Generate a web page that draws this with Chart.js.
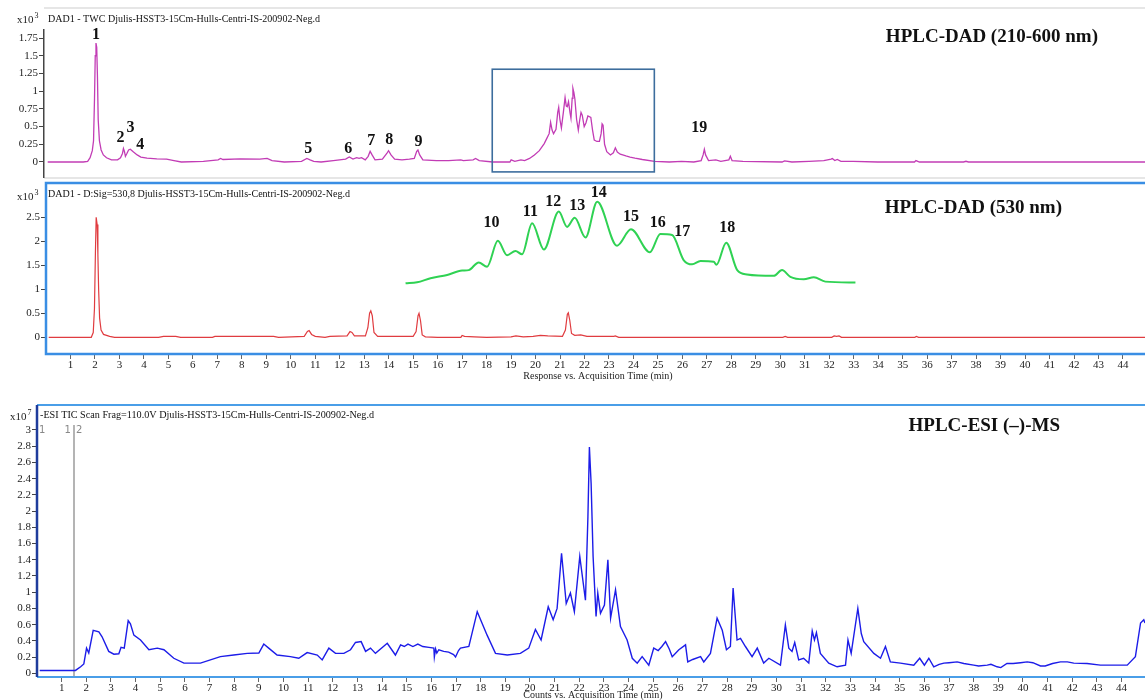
<!DOCTYPE html>
<html>
<head>
<meta charset="utf-8">
<script src="https://cdn.jsdelivr.net/npm/chart.js@4.4.1/dist/chart.umd.min.js"></script>
<style>
html, body { margin: 0; padding: 0; background: #fff; }
#wrap { position: relative; width: 1145px; height: 700px; overflow: hidden; background: #fff; }
#wrap canvas { position: absolute; left: 0; }
</style>
</head>
<body>
<div id="wrap">
  <canvas id="dadAll" width="1145" height="180" style="top:0px"></canvas>
  <canvas id="dad530" width="1145" height="205" style="top:180px"></canvas>
  <canvas id="ticMs" width="1145" height="315" style="top:385px"></canvas>
</div>
<script>
// ---- DAD 210-600 nm trace: [time (min), response x10^3]
const uvTrace = [[0.15,0],[1.6,0],[1.78,0.01],[1.88,0.06],[1.97,0.16],[2.02,0.3],[2.06,0.9],[2.09,1.5],[2.12,1.68],[2.15,1.62],[2.18,1.2],[2.21,0.6],[2.26,0.3],[2.33,0.17],[2.42,0.1],[2.55,0.06],[2.75,0.03],[3.0,0.03],[3.12,0.06],[3.2,0.12],[3.24,0.19],[3.28,0.15],[3.32,0.08],[3.38,0.12],[3.45,0.17],[3.52,0.18],[3.65,0.14],[3.8,0.1],[3.95,0.07],[4.2,0.055],[4.6,0.045],[5.0,0.04],[5.3,0.02],[5.6,0],[6.5,0.01],[7.1,0.03],[7.2,0.05],[7.3,0.035],[8.0,0.045],[8.8,0.04],[9.1,0.05],[9.3,0.02],[9.8,0],[10.5,0.01],[10.72,0.05],[10.85,0.03],[11.0,0.01],[11.3,0],[11.8,0.02],[12.3,0.04],[12.45,0.07],[12.6,0.04],[12.75,0.06],[12.85,0.05],[12.95,0.06],[13.1,0.03],[13.22,0.08],[13.3,0.15],[13.38,0.1],[13.5,0.03],[13.8,0.04],[13.98,0.12],[14.05,0.16],[14.15,0.1],[14.3,0.04],[14.6,0.03],[14.9,0.04],[15.1,0.05],[15.2,0.15],[15.25,0.17],[15.32,0.1],[15.45,0.03],[16.0,0.02],[16.5,0.02],[17.0,0.03],[17.1,0.02],[17.5,0.03],[17.6,0.05],[17.75,0.02],[18.3,0],[19.0,0],[19.05,0.03],[19.2,0.01],[19.45,0.03],[19.6,0.02],[19.8,0.05],[20.0,0.1],[20.2,0.16],[20.4,0.26],[20.5,0.33],[20.6,0.4],[20.66,0.56],[20.72,0.45],[20.78,0.4],[20.88,0.46],[20.95,0.7],[20.99,0.77],[21.04,0.6],[21.1,0.48],[21.18,0.7],[21.25,0.91],[21.3,0.79],[21.34,0.78],[21.39,0.85],[21.45,0.7],[21.49,0.62],[21.54,0.9],[21.57,1.04],[21.61,0.98],[21.65,0.89],[21.72,0.6],[21.79,0.45],[21.85,0.6],[21.9,0.7],[21.95,0.66],[22.03,0.5],[22.1,0.55],[22.18,0.65],[22.3,0.63],[22.37,0.45],[22.44,0.31],[22.55,0.29],[22.65,0.29],[22.72,0.4],[22.76,0.54],[22.8,0.52],[22.86,0.25],[22.95,0.145],[23.1,0.1],[23.22,0.13],[23.3,0.2],[23.38,0.14],[23.5,0.11],[23.6,0.1],[23.73,0.085],[23.9,0.07],[24.1,0.055],[24.4,0.035],[24.9,0.01],[25.5,0],[26.0,0.01],[26.5,0],[26.8,0.02],[26.88,0.1],[26.93,0.18],[26.98,0.1],[27.1,0.02],[27.4,0.03],[27.6,0.01],[27.93,0.03],[27.99,0.08],[28.06,0.02],[28.5,0.01],[30.1,0],[30.2,0.015],[30.5,0],[31.2,0.01],[31.8,0.02],[32.1,0.04],[32.15,0.05],[32.25,0.02],[32.35,0.035],[32.5,0.01],[33.0,0.01],[34.0,0],[35.5,0],[35.56,0.02],[35.7,0],[37.5,0],[37.6,0.01],[37.7,0],[44.9,0]];

// ---- DAD 530 nm trace
const visTrace = [[0.11,0],[1.85,0],[1.93,0.1],[1.98,0.6],[2.02,1.8],[2.05,2.5],[2.09,2.35],[2.12,1.72],[2.15,1.0],[2.19,0.4],[2.25,0.15],[2.35,0.06],[2.6,0.02],[2.8,0],[4.6,0],[4.8,0.02],[5.3,0.02],[5.5,0],[6.8,0],[6.9,0.02],[9.3,0.02],[9.5,0],[10.55,0.02],[10.68,0.12],[10.75,0.14],[10.85,0.06],[11.0,0.02],[11.4,0],[11.6,0.02],[12.3,0.03],[12.42,0.12],[12.5,0.1],[12.6,0.03],[13.05,0.03],[13.15,0.2],[13.22,0.5],[13.27,0.55],[13.33,0.45],[13.4,0.1],[13.55,0.02],[14.0,0.02],[15.0,0.02],[15.12,0.12],[15.2,0.45],[15.24,0.5],[15.3,0.35],[15.37,0.05],[15.5,0.01],[16.0,0],[16.95,0],[17.0,0.04],[17.1,0.02],[17.5,0.01],[18.0,0],[19.0,0.01],[19.2,0.03],[19.5,0.01],[19.9,0.02],[20.2,0.04],[20.5,0.03],[21.1,0.02],[21.22,0.15],[21.3,0.48],[21.34,0.51],[21.4,0.35],[21.47,0.08],[21.6,0.04],[21.85,0.05],[22.1,0.02],[23.2,0.02],[23.26,0.03],[23.4,0],[24.0,0],[30.1,0],[30.2,0.02],[30.3,0],[32.1,0],[32.2,0.03],[32.3,0.02],[32.4,0.03],[32.5,0],[35.5,0],[35.56,0.02],[35.65,0],[44.9,0]];

// ---- expanded 530 nm window (drawn over the 530 nm panel)
const insetTrace = [[14.69,1.125],[15.16,1.146],[15.71,1.23],[16.39,1.30],[17.0,1.39],[17.27,1.40],[17.68,1.56],[18.02,1.47],[18.46,2.01],[18.84,1.71],[19.18,1.80],[19.45,1.73],[19.86,2.375],[20.34,1.83],[20.95,2.62],[21.29,2.30],[21.6,2.49],[22.04,2.08],[22.52,2.825],[23.33,1.91],[23.9,2.25],[24.67,1.77],[25.1,2.15],[25.58,2.13],[26.05,1.61],[26.4,1.52],[26.74,1.59],[27.28,1.575],[27.39,1.51],[27.79,1.97],[28.24,1.40],[28.64,1.31],[29.73,1.28],[30.07,1.40],[30.41,1.26],[30.96,1.21],[31.37,1.25],[31.84,1.16],[33.07,1.14]];

// ---- ESI(-) TIC trace: [time (min), counts x10^7]
const ticTrace = [[0.11,0.035],[1.56,0.035],[1.77,0.08],[1.9,0.115],[2.01,0.31],[2.1,0.25],[2.28,0.53],[2.51,0.51],[2.64,0.45],[2.91,0.27],[3.12,0.235],[3.32,0.24],[3.41,0.32],[3.54,0.31],[3.7,0.65],[3.79,0.61],[3.93,0.47],[4.2,0.41],[4.54,0.29],[4.88,0.31],[5.15,0.29],[5.55,0.185],[5.96,0.125],[6.63,0.125],[7.44,0.205],[7.98,0.225],[8.53,0.245],[9.0,0.25],[9.2,0.36],[9.4,0.31],[9.74,0.225],[10.28,0.205],[10.62,0.185],[10.96,0.255],[11.37,0.225],[11.57,0.165],[11.84,0.31],[12.11,0.245],[12.45,0.245],[12.72,0.29],[12.92,0.38],[13.15,0.39],[13.33,0.27],[13.53,0.31],[13.73,0.245],[14.21,0.37],[14.54,0.225],[14.75,0.35],[14.9,0.33],[15.05,0.36],[15.25,0.33],[15.45,0.36],[15.65,0.33],[15.9,0.32],[16.1,0.31],[16.12,0.2],[16.17,0.3],[16.22,0.25],[16.3,0.29],[16.5,0.27],[16.7,0.26],[16.9,0.23],[16.98,0.2],[17.1,0.28],[17.18,0.31],[17.52,0.33],[17.86,0.76],[18.26,0.47],[18.6,0.245],[19.08,0.225],[19.61,0.245],[19.95,0.31],[20.22,0.54],[20.45,0.41],[20.74,0.82],[20.94,0.66],[21.1,0.80],[21.28,1.48],[21.47,0.86],[21.64,0.99],[21.8,0.76],[22.02,1.44],[22.25,0.90],[22.35,1.93],[22.41,2.79],[22.48,2.34],[22.56,1.44],[22.68,0.70],[22.75,0.99],[22.86,0.74],[23.02,0.84],[23.16,1.40],[23.27,0.68],[23.47,1.03],[23.67,0.575],[23.94,0.41],[24.15,0.185],[24.35,0.125],[24.55,0.205],[24.82,0.10],[25.02,0.31],[25.2,0.28],[25.35,0.33],[25.5,0.39],[25.65,0.3],[25.77,0.205],[26.04,0.29],[26.31,0.35],[26.4,0.14],[26.6,0.17],[26.92,0.205],[27.05,0.14],[27.32,0.245],[27.59,0.68],[27.8,0.53],[27.97,0.29],[28.13,0.33],[28.24,1.05],[28.4,0.41],[28.54,0.43],[28.74,0.33],[29.01,0.205],[29.22,0.31],[29.48,0.125],[29.69,0.185],[30.16,0.10],[30.36,0.595],[30.5,0.31],[30.63,0.27],[30.74,0.38],[30.9,0.165],[31.1,0.185],[31.31,0.125],[31.45,0.52],[31.54,0.41],[31.62,0.50],[31.78,0.245],[32.12,0.125],[32.46,0.08],[32.8,0.10],[32.9,0.41],[33.03,0.245],[33.3,0.80],[33.44,0.49],[33.54,0.39],[33.95,0.245],[34.22,0.185],[34.42,0.33],[34.62,0.14],[35.03,0.125],[35.57,0.10],[35.81,0.185],[36.0,0.10],[36.18,0.185],[36.38,0.08],[36.6,0.11],[36.79,0.125],[37.0,0.13],[37.33,0.14],[37.6,0.12],[38.0,0.10],[38.2,0.09],[38.55,0.10],[38.7,0.11],[38.95,0.08],[39.1,0.07],[39.35,0.12],[39.6,0.12],[39.9,0.13],[40.17,0.14],[40.4,0.13],[40.71,0.09],[40.9,0.09],[41.2,0.12],[41.52,0.14],[41.8,0.14],[42.06,0.125],[42.6,0.12],[43.14,0.10],[43.6,0.10],[44.23,0.10],[44.56,0.205],[44.77,0.62],[44.9,0.66],[44.95,0.62]];

// ---- peak numbering
const uvPeakNames = ['1','2','3','4','5','6','7','8','9','19'];
const uvPeakTime  = [2.12, 3.12, 3.53, 3.93, 10.78, 12.41, 13.35, 14.08, 15.27, 26.72];
const uvPeakLevel = [1.79, 0.34, 0.48, 0.24, 0.18, 0.18, 0.30, 0.31, 0.28, 0.48];
const visPeakNames = ['10','11','12','13','14','15','16','17','18'];
const visPeakTime  = [18.2, 19.79, 20.72, 21.7, 22.58, 23.9, 24.99, 25.99, 27.83];
const visPeakLevel = [2.375, 2.62, 2.825, 2.735, 3.01, 2.51, 2.375, 2.2, 2.29];

// ---- highlighted retention window on the 210-600 nm trace
const windowTime  = [18.28, 24.89];
const windowLevel = [-0.14, 1.31];

// ---- axis ticks
const timeTicks = [1,2,3,4,5,6,7,8,9,10,11,12,13,14,15,16,17,18,19,20,21,22,23,24,25,26,27,28,29,30,31,32,33,34,35,36,37,38,39,40,41,42,43,44];
const uvTicks  = [0, 0.25, 0.5, 0.75, 1, 1.25, 1.5, 1.75];
const visTicks = [0, 0.5, 1, 1.5, 2, 2.5];
const ticTicks = [0, 0.2, 0.4, 0.6, 0.8, 1, 1.2, 1.4, 1.6, 1.8, 2, 2.2, 2.4, 2.6, 2.8, 3];

const SERIF = '"Liberation Serif", "Times New Roman", serif';
const SANS = '"DejaVu Sans", Arial, sans-serif';
const toPoints = (pairs) => pairs.map(p => ({ x: p[0], y: p[1] }));

// keep the plot rectangle fixed: no extra room for overflowing tick labels
function noOverflow(s) {
  s.paddingTop = 0; s.paddingBottom = 0; s.paddingLeft = 0; s.paddingRight = 0;
}

function axes(o) {
  return {
    x: {
      type: 'linear', min: 0, max: o.xMax, display: o.xShow,
      afterBuildTicks: s => { s.ticks = timeTicks.map(v => ({ value: v })); },
      afterFit: s => { s.height = o.xHeight; noOverflow(s); },
      grid: { display: true, drawOnChartArea: false, drawTicks: true, tickLength: 5, tickColor: '#666', tickWidth: 1 },
      border: { display: false },
      ticks: { padding: 0, autoSkip: false, maxRotation: 0, color: '#222',
               font: { family: SERIF, size: 11 }, callback: v => String(v) }
    },
    y: {
      min: o.yMin, max: o.yMax,
      afterBuildTicks: s => { s.ticks = o.yTicks.map(v => ({ value: v })); },
      afterFit: s => { s.width = o.yWidth; noOverflow(s); },
      grid: { display: true, drawOnChartArea: false, tickLength: 5, tickColor: '#444', tickWidth: 1 },
      border: { display: o.yBorder, color: '#444', width: 1.5 },
      ticks: { padding: 1, color: '#222', font: { family: SERIF, size: 11 }, callback: v => String(v) }
    }
  };
}

function common(padTop, padBottom) {
  return {
    responsive: false, animation: false, devicePixelRatio: 1,
    layout: { autoPadding: false, padding: { top: padTop, bottom: padBottom, left: 0, right: 0 } },
    plugins: { legend: { display: false }, tooltip: { enabled: false } },
    elements: { point: { radius: 0, hoverRadius: 0 } }
  };
}

function exponentLabel(ctx, x, y, power) {
  ctx.fillStyle = '#222';
  ctx.textBaseline = 'middle';
  ctx.textAlign = 'left';
  ctx.font = '11px ' + SERIF;
  ctx.fillText('x10', x, y);
  const w = ctx.measureText('x10').width;
  ctx.font = '8px ' + SERIF;
  ctx.fillText(power, x + w + 1, y - 4);
}

function subtitle(ctx, text, x, y, maxW) {
  ctx.fillStyle = '#111';
  ctx.textAlign = 'left';
  ctx.textBaseline = 'middle';
  ctx.font = '11px ' + SERIF;
  ctx.fillText(text, x, y, maxW);
}

function heading(ctx, text, right, y) {
  ctx.fillStyle = '#111';
  ctx.textAlign = 'right';
  ctx.textBaseline = 'middle';
  ctx.font = 'bold 19px ' + SERIF;
  ctx.fillText(text, right, y);
}

function peakNumbers(chart, names, times, levels) {
  const { ctx, scales: { x, y } } = chart;
  ctx.fillStyle = '#111';
  ctx.textAlign = 'center';
  ctx.textBaseline = 'middle';
  ctx.font = 'bold 16px ' + SERIF;
  names.forEach((n, i) => ctx.fillText(n, x.getPixelForValue(times[i]), y.getPixelForValue(levels[i])));
}

// ---------- Panel 1: DAD 210-600 nm ----------
new Chart(document.getElementById('dadAll'), {
  type: 'line',
  data: { datasets: [{ data: toPoints(uvTrace), borderColor: '#c23cb5', borderWidth: 1.3, tension: 0, fill: false }] },
  options: Object.assign(common(30, 3), {
    scales: axes({ xMax: 44.9, xShow: false, xHeight: 0, yMin: -0.212, yMax: 1.864, yTicks: uvTicks, yWidth: 44, yBorder: true })
  }),
  plugins: [{
    id: 'uvDecor',
    beforeDraw(chart) {
      const { ctx, chartArea: a } = chart;
      ctx.save();
      ctx.strokeStyle = '#e6e6e6';
      ctx.lineWidth = 2;
      ctx.beginPath();
      ctx.moveTo(a.left, 8); ctx.lineTo(a.right, 8);
      ctx.moveTo(a.left, 178); ctx.lineTo(a.right, 178);
      ctx.stroke();
      ctx.restore();
    },
    afterDraw(chart) {
      const { ctx, scales: { x, y } } = chart;
      ctx.save();
      ctx.strokeStyle = '#3d6d9d';
      ctx.lineWidth = 1.6;
      const x0 = x.getPixelForValue(windowTime[0]), x1 = x.getPixelForValue(windowTime[1]);
      const y0 = y.getPixelForValue(windowLevel[1]), y1 = y.getPixelForValue(windowLevel[0]);
      ctx.strokeRect(x0, y0, x1 - x0, y1 - y0);
      exponentLabel(ctx, 17, 20, '3');
      subtitle(ctx, 'DAD1 - TWC Djulis-HSST3-15Cm-Hulls-Centri-IS-200902-Neg.d', 48, 19, 272);
      heading(ctx, 'HPLC-DAD (210-600 nm)', 1098, 37);
      peakNumbers(chart, uvPeakNames, uvPeakTime, uvPeakLevel);
      ctx.restore();
    }
  }]
});

// ---------- Panel 2: DAD 530 nm ----------
new Chart(document.getElementById('dad530'), {
  type: 'line',
  data: { datasets: [
    { data: toPoints(visTrace), borderColor: '#e03c40', borderWidth: 1.2, tension: 0, fill: false, order: 2 },
    { data: toPoints(insetTrace), borderColor: '#2fd253', borderWidth: 2, cubicInterpolationMode: 'monotone', fill: false, order: 1 }
  ] },
  options: Object.assign(common(3, 0), {
    scales: axes({ xMax: 44.9, xShow: true, xHeight: 31, yMin: -0.348, yMax: 3.215, yTicks: visTicks, yWidth: 46, yBorder: false })
  }),
  plugins: [{
    id: 'visDecor',
    afterDraw(chart) {
      const { ctx, chartArea: a } = chart;
      ctx.save();
      ctx.strokeStyle = '#3a8ee4';
      ctx.lineWidth = 2.5;
      ctx.strokeRect(a.left, a.top, a.right - a.left + 2, a.bottom - a.top);
      exponentLabel(ctx, 17, 17, '3');
      subtitle(ctx, 'DAD1 - D:Sig=530,8 Djulis-HSST3-15Cm-Hulls-Centri-IS-200902-Neg.d', 48, 14, 302);
      heading(ctx, 'HPLC-DAD (530 nm)', 1062, 28);
      peakNumbers(chart, visPeakNames, visPeakTime, visPeakLevel);
      ctx.fillStyle = '#222';
      ctx.textAlign = 'center';
      ctx.textBaseline = 'middle';
      ctx.font = '10px ' + SERIF;
      ctx.fillText('Response vs. Acquisition Time (min)', 598, a.bottom + 22);
      ctx.restore();
    }
  }]
});

// ---------- Panel 3: ESI(-) TIC ----------
new Chart(document.getElementById('ticMs'), {
  type: 'line',
  data: { datasets: [{ data: toPoints(ticTrace), borderColor: '#1c1ce8', borderWidth: 1.4, tension: 0, fill: false }] },
  options: Object.assign(common(20, 0), {
    scales: axes({ xMax: 44.95, xShow: true, xHeight: 23, yMin: -0.046, yMax: 3.308, yTicks: ticTicks, yWidth: 37, yBorder: false })
  }),
  plugins: [{
    id: 'ticDecor',
    beforeDatasetsDraw(chart) {
      const { ctx, chartArea: a, scales: { x } } = chart;
      ctx.save();
      const gx = x.getPixelForValue(1.5);
      ctx.strokeStyle = '#b4b4b4';
      ctx.lineWidth = 2;
      ctx.beginPath();
      ctx.moveTo(gx, a.top + 20); ctx.lineTo(gx, a.bottom);
      ctx.stroke();
      ctx.fillStyle = '#888';
      ctx.font = '10px ' + SANS;
      ctx.textBaseline = 'middle';
      ctx.textAlign = 'left';
      ctx.fillText('1', a.left + 2, a.top + 25);
      ctx.textAlign = 'right';
      ctx.fillText('1', gx - 3, a.top + 25);
      ctx.textAlign = 'left';
      ctx.fillText('2', gx + 2, a.top + 25);
      ctx.restore();
    },
    afterDraw(chart) {
      const { ctx, chartArea: a } = chart;
      ctx.save();
      ctx.strokeStyle = '#4a9ee8';
      ctx.lineWidth = 2;
      ctx.beginPath();
      ctx.moveTo(a.left, a.top); ctx.lineTo(a.right, a.top);
      ctx.moveTo(a.left, a.bottom); ctx.lineTo(a.right, a.bottom);
      ctx.stroke();
      ctx.strokeStyle = '#1f3c9c';
      ctx.lineWidth = 2.5;
      ctx.beginPath();
      ctx.moveTo(a.left, a.top); ctx.lineTo(a.left, a.bottom);
      ctx.stroke();
      exponentLabel(ctx, 10, 32, '7');
      subtitle(ctx, '-ESI TIC Scan Frag=110.0V Djulis-HSST3-15Cm-Hulls-Centri-IS-200902-Neg.d', 40, 30, 334);
      heading(ctx, 'HPLC-ESI (\u2013)-MS', 1060, 41);
      ctx.fillStyle = '#222';
      ctx.textAlign = 'center';
      ctx.textBaseline = 'middle';
      ctx.font = '10px ' + SERIF;
      ctx.fillText('Counts vs. Acquisition Time (min)', 593, a.bottom + 18);
      ctx.restore();
    }
  }]
});
</script>
</body>
</html>
